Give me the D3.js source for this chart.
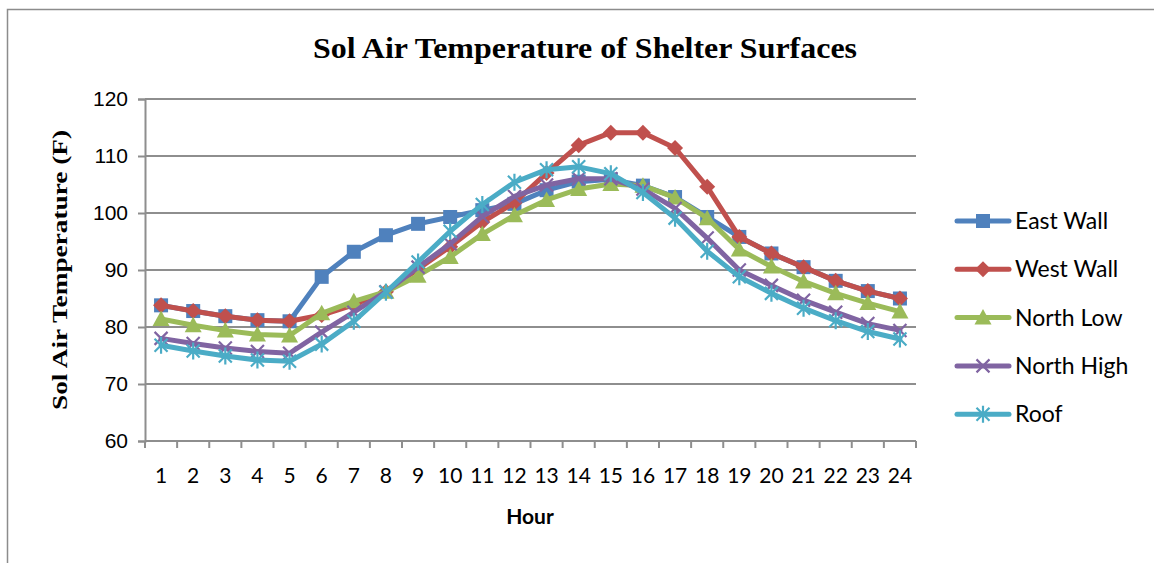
<!DOCTYPE html>
<html>
  <head>
    <meta charset="UTF-8">
    <title>Sol Air Temperature of Shelter Surfaces</title>
    <script src="https://cdn.jsdelivr.net/npm/d3@7"></script>
    <style>
      body, html { margin:0; padding:0; background:#fff; }
      .title { font-family: "Liberation Serif", serif; font-weight: bold; font-size: 29px; }
      .ylabel { font-family: "Liberation Serif", serif; font-weight: bold; font-size: 22px; }
      .xlabel { font-family: Lato, "Open Sans", sans-serif; font-weight: bold; font-size: 21px; }
      .xtick { font-family: Lato, "Open Sans", sans-serif; font-size: 21px; }
      .legend text { font-family: Lato, "Open Sans", sans-serif; font-size: 23px; }
    </style>
  </head>
  <body>
<div id="chart"></div>
<script type="text/javascript">

var hours = d3.range(1, 25);
var yTicks = [60, 70, 80, 90, 100, 110, 120];
var seriesNames = ['East Wall', 'West Wall', 'North Low', 'North High', 'Roof'];

var eastWall  = [83.8, 82.8, 81.9, 81.2, 81.0, 88.8, 93.2, 96.1, 98.1, 99.3, 100.5, 101.6, 104.0, 105.5, 105.9, 104.8, 102.8, 99.3, 95.8, 92.9, 90.5, 88.1, 86.3, 85.0];
var westWall  = [83.8, 82.8, 81.9, 81.2, 81.0, 82.1, 83.9, 86.2, 90.2, 94.1, 98.4, 101.8, 107.0, 111.9, 114.1, 114.1, 111.4, 104.6, 95.8, 92.9, 90.5, 88.1, 86.3, 85.0];
var northLow  = [81.4, 80.3, 79.4, 78.7, 78.5, 82.4, 84.5, 86.2, 89.0, 92.3, 96.3, 99.6, 102.3, 104.2, 105.1, 104.8, 102.7, 99.1, 93.6, 90.6, 88.0, 85.9, 84.2, 82.7];
var northHigh = [78.0, 77.1, 76.3, 75.7, 75.4, 79.1, 82.6, 86.2, 90.5, 94.6, 99.4, 102.9, 104.9, 106.0, 106.0, 104.2, 100.8, 95.6, 90.0, 87.3, 84.7, 82.6, 80.6, 79.4];
var roof      = [76.8, 75.8, 74.9, 74.2, 74.0, 77.0, 81.0, 86.1, 91.4, 96.8, 101.5, 105.4, 107.6, 108.1, 106.9, 103.6, 99.1, 93.3, 88.8, 85.9, 83.3, 81.1, 79.2, 77.9];

var seriesValues = [eastWall, westWall, northLow, northHigh, roof];
var colors = ['#4F81BD', '#C0504D', '#9BBB59', '#8064A2', '#4BACC6'];
var markers = ['square', 'diamond', 'triangle', 'x', 'star'];

var W = 1154, H = 563;
var plot = { left: 145, right: 916, top: 99, bottom: 441 };

var svg = d3.select('#chart').append('svg').attr('width', W).attr('height', H);

// outer chart border (only top/left visible in the picture)
svg.append('path')
   .attr('d', 'M7.5,' + H + ' L7.5,9.5 L' + W + ',9.5')
   .attr('fill', 'none').attr('stroke', '#8c8c8c').attr('stroke-width', 1.5);

var x = d3.scaleBand().domain(hours).range([plot.left, plot.right]);
var y = d3.scaleLinear().domain([60, 120]).range([plot.bottom, plot.top]);

// grid lines
svg.append('g').selectAll('line').data(yTicks.slice(1)).enter().append('line')
   .attr('x1', plot.left).attr('x2', plot.right)
   .attr('y1', function(d){ return y(d); }).attr('y2', function(d){ return y(d); })
   .attr('stroke', '#8e8e8e').attr('stroke-width', 2);

// y axis
var yAxis = svg.append('g').attr('transform', 'translate(' + plot.left + ',0)')
   .call(d3.axisLeft(y).tickValues(yTicks).tickSize(7).tickPadding(10));
yAxis.select('.domain').attr('stroke', '#8e8e8e').attr('stroke-width', 2);
yAxis.selectAll('.tick line').attr('stroke', '#8e8e8e').attr('stroke-width', 2);
yAxis.selectAll('text').attr('fill', '#000').style('font-size', '21px')
   .style('font-family', '"Liberation Sans", Arial, sans-serif');

// x axis: ticks on category boundaries
var xg = svg.append('g');
xg.append('line').attr('x1', plot.left).attr('x2', plot.right)
  .attr('y1', plot.bottom).attr('y2', plot.bottom)
  .attr('stroke', '#8e8e8e').attr('stroke-width', 2);
xg.selectAll('line.tk').data(d3.range(0, 25)).enter().append('line').attr('class', 'tk')
  .attr('x1', function(i){ return plot.left + i * x.bandwidth(); })
  .attr('x2', function(i){ return plot.left + i * x.bandwidth(); })
  .attr('y1', plot.bottom).attr('y2', plot.bottom + 7)
  .attr('stroke', '#8e8e8e').attr('stroke-width', 2);
xg.selectAll('text').data(hours).enter().append('text').attr('class', 'xtick')
  .attr('x', function(d){ return x(d) + x.bandwidth() / 2; })
  .attr('y', 483).attr('text-anchor', 'middle').text(function(d){ return d; });

// titles
svg.append('text').attr('class', 'title').attr('x', 585).attr('y', 58)
   .attr('text-anchor', 'middle').attr('textLength', 544).attr('lengthAdjust', 'spacingAndGlyphs')
   .text('Sol Air Temperature of Shelter Surfaces');
svg.append('text').attr('class', 'ylabel')
   .attr('transform', 'translate(67,270) rotate(-90)')
   .attr('text-anchor', 'middle').attr('textLength', 280).attr('lengthAdjust', 'spacingAndGlyphs')
   .text('Sol Air Temperature (F)');
svg.append('text').attr('class', 'xlabel').attr('x', 530).attr('y', 524)
   .attr('text-anchor', 'middle').text('Hour');

function drawMarker(g, type, color) {
  if (type === 'square') {
    g.append('rect').attr('x', -7).attr('y', -7).attr('width', 14).attr('height', 14).attr('fill', color);
  } else if (type === 'diamond') {
    g.append('path').attr('d', 'M0,-8 L8,0 L0,8 L-8,0 Z').attr('fill', color);
  } else if (type === 'triangle') {
    g.append('path').attr('d', 'M0,-8.5 L8.5,7 L-8.5,7 Z').attr('fill', color);
  } else if (type === 'x') {
    g.append('path').attr('d', 'M-6.5,-6.5 L6.5,6.5 M-6.5,6.5 L6.5,-6.5').attr('stroke', color).attr('stroke-width', 2.2);
  } else {
    g.append('path').attr('d', 'M-6.5,-6.5 L6.5,6.5 M-6.5,6.5 L6.5,-6.5 M0,-8.5 L0,8.5').attr('stroke', color).attr('stroke-width', 2.2);
  }
}

var line = d3.line()
  .x(function(d, i){ return x(hours[i]) + x.bandwidth() / 2; })
  .y(function(d){ return y(d); });

seriesValues.forEach(function(vals, s) {
  var g = svg.append('g');
  g.append('path').datum(vals).attr('d', line)
   .attr('fill', 'none').attr('stroke', colors[s]).attr('stroke-width', 5)
   .attr('stroke-linejoin', 'round').attr('stroke-linecap', 'round');
  g.selectAll('g.m').data(vals).enter().append('g').attr('class', 'm')
   .attr('transform', function(d, i){ return 'translate(' + (x(hours[i]) + x.bandwidth() / 2) + ',' + y(d) + ')'; })
   .each(function(){ drawMarker(d3.select(this), markers[s], colors[s]); });
});

// legend
var legend = svg.append('g').attr('class', 'legend');
seriesNames.forEach(function(name, s) {
  var ly = 221 + s * 48.3;
  var lg = legend.append('g').attr('transform', 'translate(0,' + ly + ')');
  lg.append('line').attr('x1', 957).attr('x2', 1009).attr('y1', 0).attr('y2', 0)
    .attr('stroke', colors[s]).attr('stroke-width', 5).attr('stroke-linecap', 'round');
  drawMarker(lg.append('g').attr('transform', 'translate(983,0)'), markers[s], colors[s]);
  lg.append('text').attr('x', 1015).attr('y', 8).text(name);
});

</script>
  </body>
</html>
